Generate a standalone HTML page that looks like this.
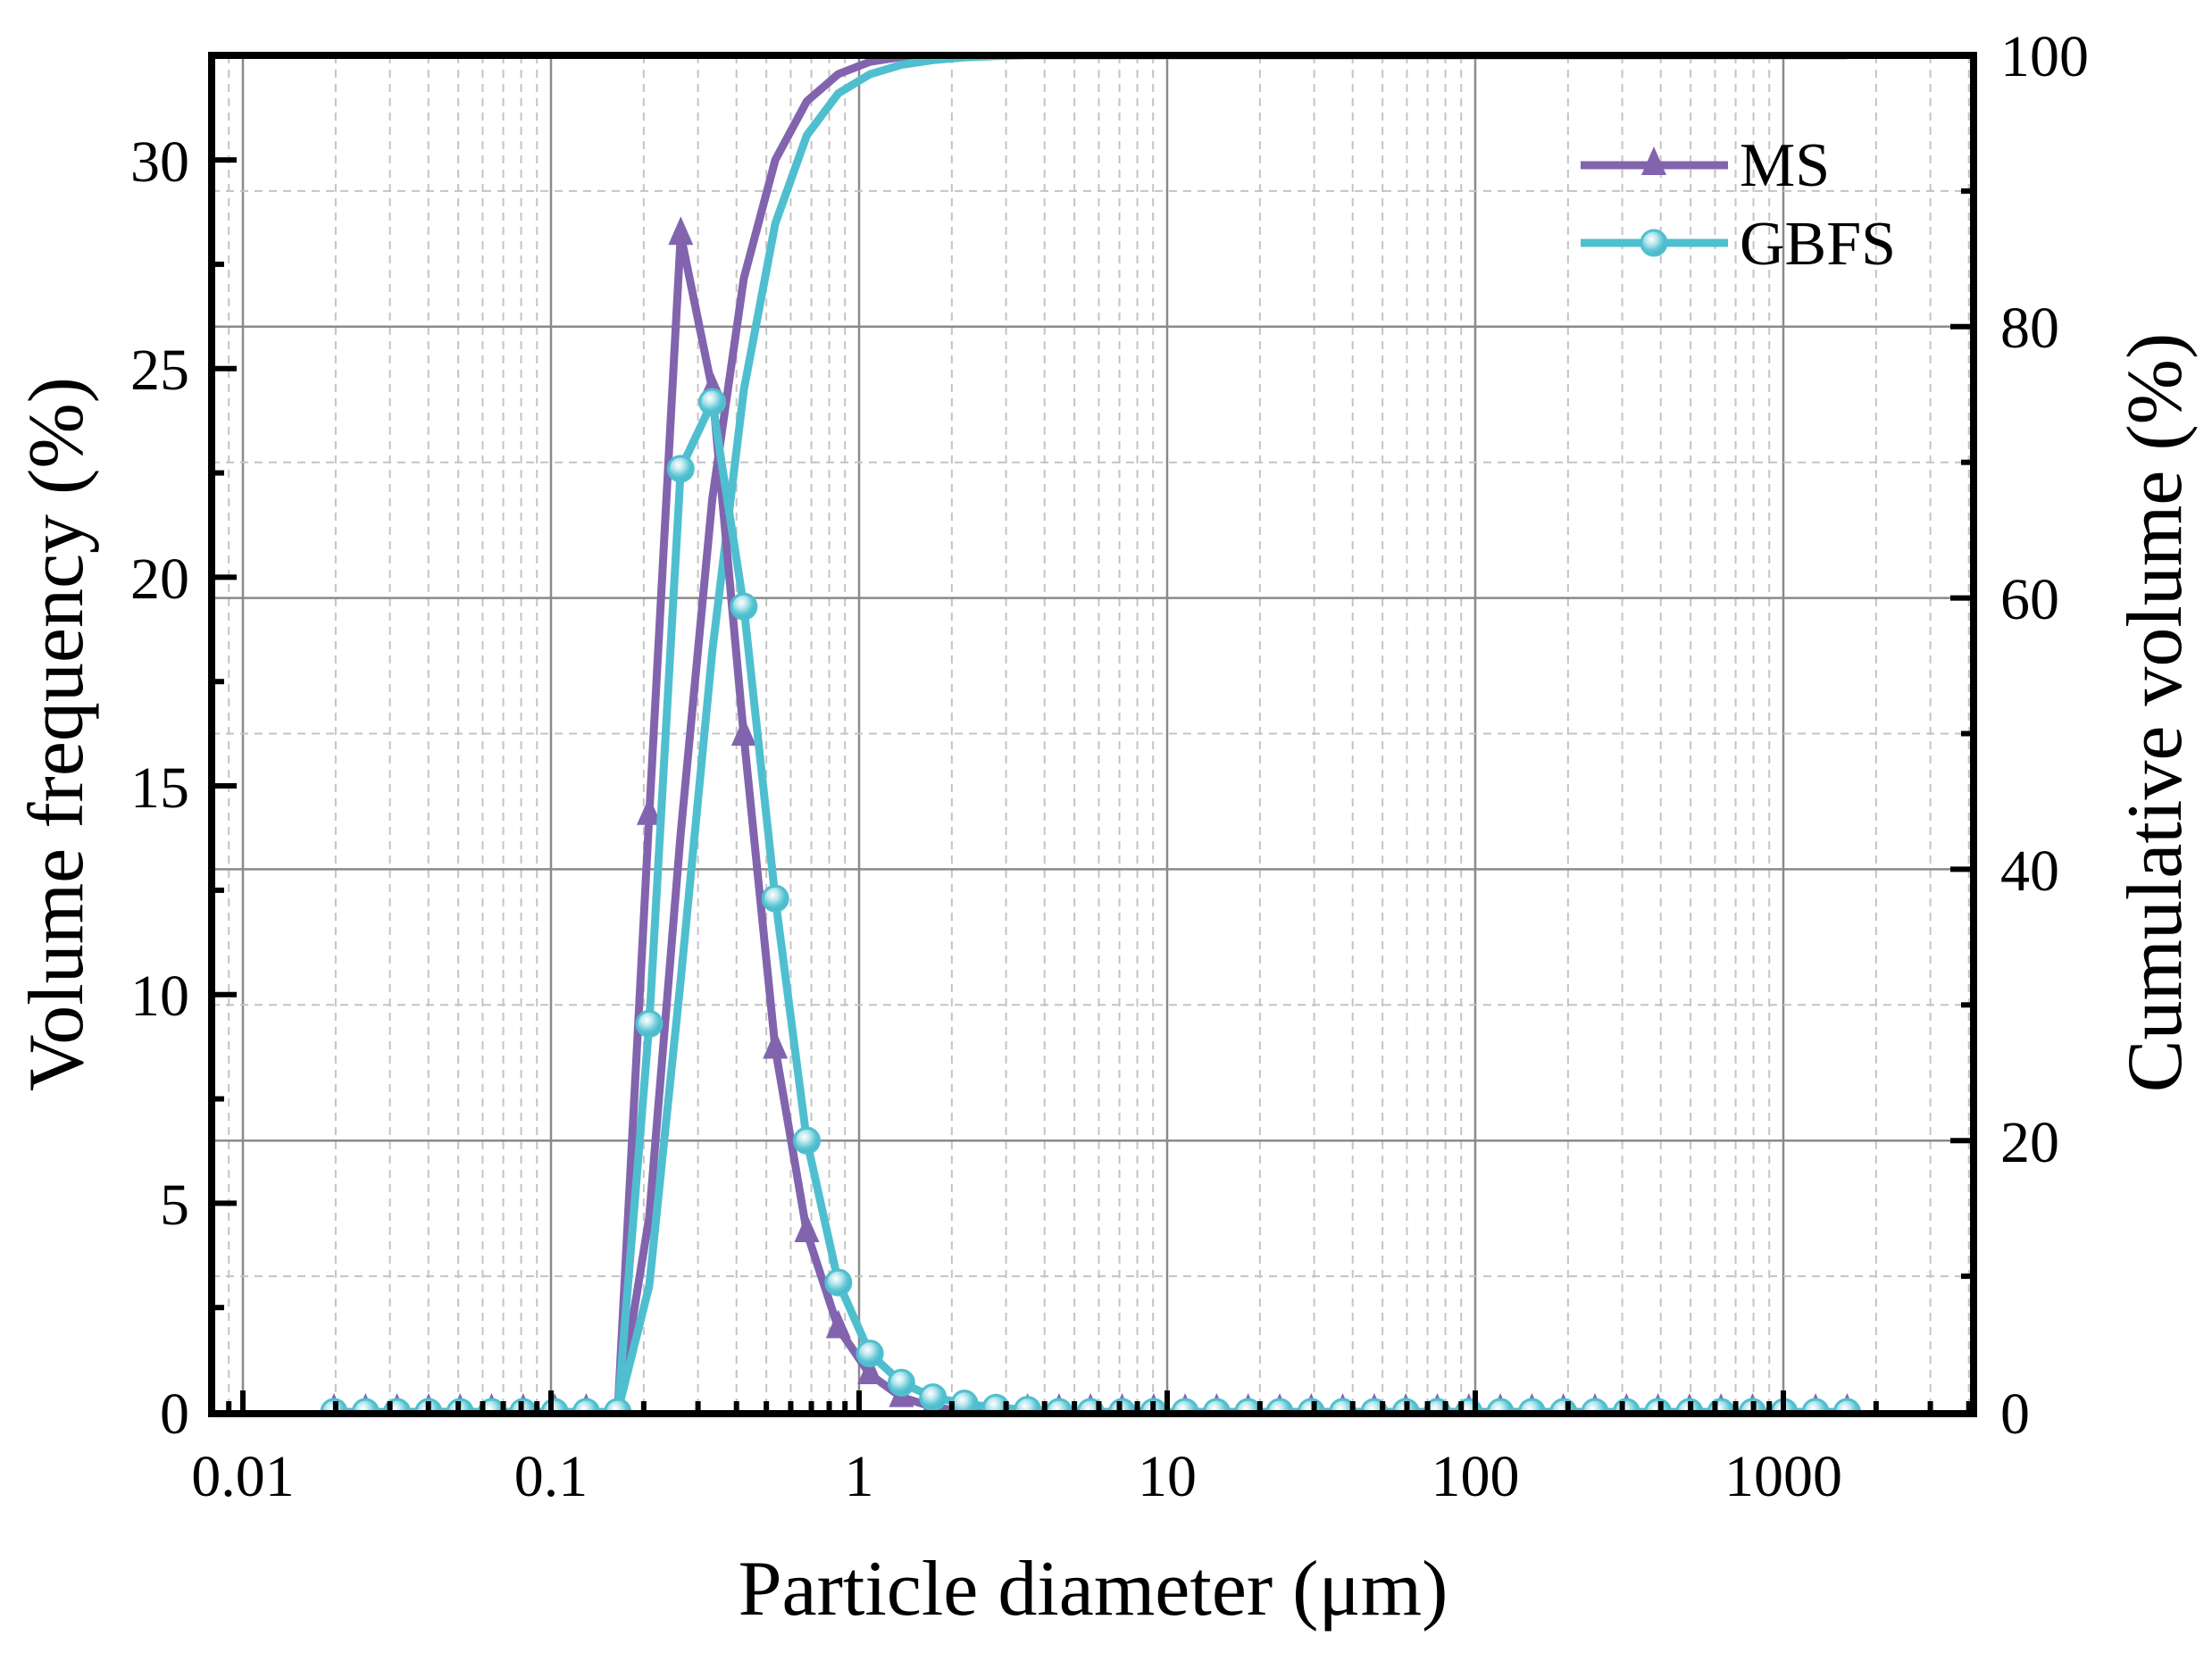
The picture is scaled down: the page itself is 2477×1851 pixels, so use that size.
<!DOCTYPE html>
<html><head><meta charset="utf-8"><style>
html,body{margin:0;padding:0;background:#fff}
svg{display:block}
text{font-family:"Liberation Serif",serif;fill:#000}
</style></head><body>
<svg id="s" width="2477" height="1851" viewBox="0 0 2477 1851" xmlns="http://www.w3.org/2000/svg">
<defs>
<radialGradient id="g" cx="0.4" cy="0.35" r="0.6">
<stop offset="0" stop-color="#ffffff"/><stop offset="0.35" stop-color="#bfe9ef"/><stop offset="0.75" stop-color="#5cc6d4"/><stop offset="1" stop-color="#4ab9c9"/>
</radialGradient>
<clipPath id="c"><rect x="237" y="62" width="1973" height="1521"/></clipPath>
</defs>
<g id="grid"></g>
<g id="data" clip-path="url(#c)"></g>
<g id="ticks"></g>
<rect x="237" y="62" width="1973" height="1521" fill="none" stroke="#000" stroke-width="8"/>
<g font-size="66" text-anchor="end">
<text x="212" y="1605">0</text>
<text x="212" y="1371">5</text>
<text x="212" y="1137">10</text>
<text x="212" y="904">15</text>
<text x="212" y="670">20</text>
<text x="212" y="436">25</text>
<text x="212" y="203">30</text>
</g>
<g font-size="66" text-anchor="start">
<text x="2240" y="1605">0</text>
<text x="2240" y="1301">20</text>
<text x="2240" y="997">40</text>
<text x="2240" y="693">60</text>
<text x="2240" y="389">80</text>
<text x="2240" y="85">100</text>
</g>
<g font-size="66" text-anchor="middle">
<text x="272" y="1675">0.01</text>
<text x="617" y="1675">0.1</text>
<text x="962" y="1675">1</text>
<text x="1307" y="1675">10</text>
<text x="1652" y="1675">100</text>
<text x="1997" y="1675">1000</text>
</g>
<text x="1224" y="1808" font-size="88" text-anchor="middle">Particle diameter (μm)</text>
<text transform="translate(92,822) rotate(-90)" font-size="88" text-anchor="middle">Volume frequency (%)</text>
<text transform="translate(2442,798) rotate(-90)" font-size="88" text-anchor="middle">Cumulative volume (%)</text>
<g id="leg">
<text x="1948" y="208" font-size="70">MS</text>
<text x="1948" y="296" font-size="70">GBFS</text>
</g>
</svg>
<script>
var NS="http://www.w3.org/2000/svg";
function el(p,t,a){var e=document.createElementNS(NS,t);for(var k in a)e.setAttribute(k,a[k]);p.appendChild(e);return e;}
var L=237,R=2210,T=62,B=1583,Y0=1581;
function X(v){return 962+345*Math.log10(v);}
function YL(v){return Y0-46.73*v;}
function YR(v){return Y0-(Y0-T)*v/100;}
var grid=document.getElementById('grid'),ticks=document.getElementById('ticks'),data=document.getElementById('data');
for(var d=-3;d<=3;d++){for(var m=1;m<=9;m++){var v=m*Math.pow(10,d);var x=X(v);if(x<=L+3||x>=R-3)continue;
 if(m==1){el(grid,'line',{x1:x,y1:T,x2:x,y2:B,stroke:'#8a8a8a','stroke-width':2.5});el(ticks,'line',{x1:x,y1:B,x2:x,y2:B-26,stroke:'#000','stroke-width':6});}
 else{el(grid,'line',{x1:x,y1:T,x2:x,y2:B,stroke:'#c4c4c4','stroke-width':2,'stroke-dasharray':'9,7'});el(ticks,'line',{x1:x,y1:B,x2:x,y2:B-14,stroke:'#000','stroke-width':6});}
}}
for(var p=10;p<100;p+=10){var y=YR(p);
 if(p%20==0){el(grid,'line',{x1:L,y1:y,x2:R,y2:y,stroke:'#8a8a8a','stroke-width':2.5});el(ticks,'line',{x1:R,y1:y,x2:R-26,y2:y,stroke:'#000','stroke-width':6});}
 else{el(grid,'line',{x1:L,y1:y,x2:R,y2:y,stroke:'#c4c4c4','stroke-width':2,'stroke-dasharray':'9,7'});el(ticks,'line',{x1:R,y1:y,x2:R-14,y2:y,stroke:'#000','stroke-width':6});}
}
for(var v=2.5;v<=32;v+=2.5){var y=YL(v);var maj=(v%5==0);el(ticks,'line',{x1:L,y1:y,x2:L+(maj?28:14),y2:y,stroke:'#000','stroke-width':6});}
var ms=[],gb=[];var N=49;
var msv={10:14.3,11:28.2,12:24.5,13:16.2,14:8.7,15:4.3,16:2.0,17:0.9,18:0.35,19:0.12};
var gbv={10:9.3,11:22.6,12:24.2,13:19.3,14:12.3,15:6.5,16:3.1,17:1.4,18:0.7,19:0.35,20:0.2,21:0.1,22:0.05};
var xs=[];for(var i=0;i<N;i++){xs.push(374+i*35.3);ms.push(msv[i]||0);gb.push(gbv[i]||0);}
function cum(a){var s=a.reduce(function(p,c){return p+c},0),c=0;return a.map(function(v){c+=v;return c/s*100;});}
var cm=cum(ms),cg=cum(gb);
function path(ys,f,start){var d='';for(var i=start;i<N;i++){d+=(d?'L':'M')+xs[i].toFixed(1)+','+f(ys[i]).toFixed(1);}return d;}
var P='#8264AE',C='#4FBFCF';
el(data,'path',{d:path(cm,YR,9),fill:'none',stroke:P,'stroke-width':9,'stroke-linejoin':'round'});
el(data,'path',{d:path(cg,YR,9),fill:'none',stroke:C,'stroke-width':9,'stroke-linejoin':'round'});
el(data,'path',{d:path(ms,YL,0),fill:'none',stroke:P,'stroke-width':9,'stroke-linejoin':'round'});
for(var i=0;i<N;i++){var x=xs[i],y=YL(ms[i]);el(data,'polygon',{points:(x)+','+(y-21)+' '+(x-14)+','+(y+11)+' '+(x+14)+','+(y+11),fill:P});}
el(data,'path',{d:path(gb,YL,0),fill:'none',stroke:C,'stroke-width':9,'stroke-linejoin':'round'});
for(var i=0;i<N;i++){var x=xs[i],y=YL(gb[i]);el(data,'circle',{cx:x,cy:y,r:14,fill:'url(#g)',stroke:C,'stroke-width':3});}
var lg=document.getElementById('leg');
el(lg,'line',{x1:1770,y1:185,x2:1935,y2:185,stroke:P,'stroke-width':9});
el(lg,'polygon',{points:'1852,164 1838,196 1866,196',fill:P});
el(lg,'line',{x1:1770,y1:272,x2:1935,y2:272,stroke:C,'stroke-width':9});
el(lg,'circle',{cx:1852,cy:272,r:14,fill:'url(#g)',stroke:C,'stroke-width':3});
</script>
</body></html>
